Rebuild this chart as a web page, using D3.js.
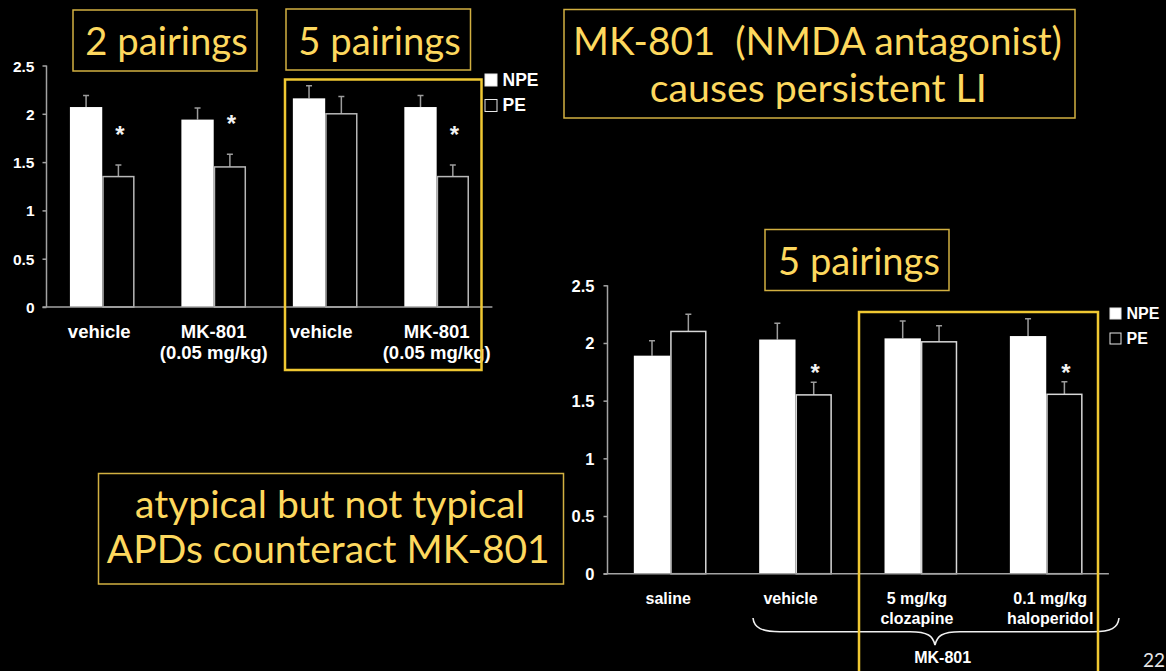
<!DOCTYPE html>
<html>
<head>
<meta charset="utf-8">
<script src="https://cdn.jsdelivr.net/npm/d3@7"></script>
<style>
  html, body { margin: 0; padding: 0; background: #000; }
  svg { display: block; }
  .tick text { font-family: "Liberation Sans", Arial, sans-serif; font-weight: bold; fill: #fff; }
</style>
</head>
<body>
<svg id="slide" width="1166" height="671"></svg>
<script>
// ---- data ----
const seriesNames = ["NPE", "PE"];
const yTicks = [0, 0.5, 1, 1.5, 2, 2.5];

// upper-left chart: 2 and 5 pairings
const leftCategories = [["vehicle"], ["MK-801", "(0.05 mg/kg)"], ["vehicle"], ["MK-801", "(0.05 mg/kg)"]];
const leftNPE = [2.07, 1.94, 2.16, 2.07];
const leftNPEErr = [0.12, 0.12, 0.13, 0.12];
const leftPE = [1.35, 1.45, 2.00, 1.35];
const leftPEErr = [0.12, 0.13, 0.18, 0.12];
const leftSignificant = [true, true, false, true];

// lower-right chart: 5 pairings with antipsychotics
const rightCategories = [["saline"], ["vehicle"], ["5 mg/kg", "clozapine"], ["0.1 mg/kg", "haloperidol"]];
const rightNPE = [1.89, 2.03, 2.04, 2.06];
const rightNPEErr = [0.13, 0.14, 0.15, 0.15];
const rightPE = [2.10, 1.55, 2.01, 1.555];
const rightPEErr = [0.15, 0.11, 0.14, 0.11];
const rightSignificant = [false, true, false, true];

// ---- styles ----
const YELLOW = "#FDD85E";
const BOX_STROKE = "#D2B041";
const HILITE = "#F0C832";
const AXIS = "#a3a3a3";
const TITLE_FONT = "Lato, 'Open Sans', sans-serif";
const CHART_FONT = "'Liberation Sans', Arial, sans-serif";

const svg = d3.select("#slide");
svg.append("rect").attr("width", 1166).attr("height", 671).attr("fill", "#000");

// text scaled so that its rendered width equals the given width
function fittedText(g, str, cx, baseline, width, color) {
  const t = g.append("text")
    .attr("x", cx).attr("y", baseline)
    .attr("text-anchor", "middle")
    .style("white-space", "pre")
    .attr("font-family", TITLE_FONT)
    .attr("font-size", 40)
    .attr("fill", color || YELLOW)
    .text(str);
  const w = t.node().getComputedTextLength();
  if (w > 0) t.attr("font-size", 40 * width / w);
  return t;
}

function box(x0, y0, x1, y1) {
  svg.append("rect")
    .attr("x", x0).attr("y", y0)
    .attr("width", x1 - x0).attr("height", y1 - y0)
    .attr("fill", "none").attr("stroke", BOX_STROKE).attr("stroke-width", 1.5);
}

function drawChart(cfg) {
  const g = svg.append("g");
  const y = d3.scaleLinear().domain([0, 2.5]).range([cfg.y0, cfg.yTop]);
  const x = d3.scaleBand()
    .domain(d3.range(cfg.categories.length))
    .range([cfg.xLeft, cfg.xRight])
    .paddingInner(0.42).paddingOuter(0.21);
  const xs = d3.scaleBand().domain(seriesNames).range([0, x.bandwidth()]);

  // y axis
  const yAxis = d3.axisLeft(y)
    .tickValues(yTicks)
    .tickSize(4)
    .tickPadding(cfg.tickPad)
    .tickFormat(d3.format("~g"));
  const ya = g.append("g").attr("transform", `translate(${cfg.xLeft},0)`).call(yAxis);
  ya.select(".domain").attr("stroke", AXIS).attr("stroke-width", 1.5).attr("d", `M-0,${cfg.yTop}V${cfg.y0}`);
  ya.selectAll(".tick line").attr("stroke", AXIS).attr("stroke-width", 1.5);
  ya.selectAll(".tick text").attr("font-size", cfg.tickSize).attr("dy", "0.36em");

  const rows = cfg.categories.map((c, i) => ({
    i,
    bars: [
      { s: "NPE", v: cfg.npe[i], e: cfg.npeErr[i] },
      { s: "PE", v: cfg.pe[i], e: cfg.peErr[i] }
    ],
    sig: cfg.sig[i]
  }));

  const grp = g.selectAll("g.cat").data(rows).join("g")
    .attr("class", "cat")
    .attr("transform", d => `translate(${x(d.i)},0)`);

  // error bars behind the bars
  grp.selectAll("path.err").data(d => d.bars).join("path")
    .attr("class", "err")
    .attr("fill", "none").attr("stroke", "#9c9c9c").attr("stroke-width", 1.5)
    .attr("d", b => {
      const cx = xs(b.s) + xs.bandwidth() / 2;
      const t = y(b.v + b.e);
      return `M${cx},${y(b.v)}V${t}M${cx - 3},${t}H${cx + 3}`;
    });

  grp.selectAll("rect.bar").data(d => d.bars).join("rect")
    .attr("class", "bar")
    .attr("x", b => xs(b.s) + (b.s === "PE" ? 0.75 : 0))
    .attr("width", b => xs.bandwidth() - (b.s === "PE" ? 1.5 : 0))
    .attr("y", b => y(b.v))
    .attr("height", b => y(0) - y(b.v))
    .attr("fill", b => b.s === "NPE" ? "#fff" : "#000")
    .attr("stroke", b => b.s === "NPE" ? "none" : cfg.peStroke)
    .attr("stroke-width", 1.5);

  // significance stars
  grp.filter(d => d.sig).append("text")
    .attr("x", xs("PE") + xs.bandwidth() / 2 + 1.5)
    .attr("y", d => y(d.bars[1].v + d.bars[1].e) - cfg.starGap + 14)
    .attr("text-anchor", "middle")
    .attr("font-family", CHART_FONT).attr("font-weight", "bold")
    .attr("font-size", 24).attr("fill", "#f2f2f2")
    .text("*");

  // x axis line
  g.append("line")
    .attr("x1", cfg.xLeft - 4).attr("x2", cfg.xRight)
    .attr("y1", cfg.y0).attr("y2", cfg.y0)
    .attr("stroke", AXIS).attr("stroke-width", 1.5);

  // category labels
  grp.each(function (d) {
    const lines = cfg.categories[d.i];
    const t = d3.select(this).append("text")
      .attr("text-anchor", "middle")
      .attr("font-family", CHART_FONT).attr("font-weight", "bold")
      .attr("font-size", cfg.catSize).attr("fill", "#fff");
    lines.forEach((ln, k) => {
      t.append("tspan")
        .attr("x", x.bandwidth() / 2 + (cfg.catShift[d.i] || 0))
        .attr("y", cfg.y0 + cfg.catLine1 + k * cfg.catLineGap)
        .text(ln);
    });
  });

  // legend
  const lg = g.append("g").attr("transform", `translate(${cfg.legendX},${cfg.legendY})`);
  seriesNames.forEach((s, k) => {
    lg.append("rect")
      .attr("x", 0.5).attr("y", k * cfg.legendGap + 0.5)
      .attr("width", cfg.legendBox).attr("height", cfg.legendBox)
      .attr("fill", s === "NPE" ? "#fff" : "#000")
      .attr("stroke", "#e8e8e8").attr("stroke-width", 1);
    lg.append("text")
      .attr("x", cfg.legendBox + 6).attr("y", k * cfg.legendGap + cfg.legendBox)
      .attr("font-family", CHART_FONT).attr("font-weight", "bold")
      .attr("font-size", cfg.legendSize).attr("fill", "#fff")
      .text(s);
  });
  return { x, y };
}

// ---- upper-left chart ----
drawChart({
  categories: leftCategories, npe: leftNPE, npeErr: leftNPEErr, pe: leftPE, peErr: leftPEErr, sig: leftSignificant,
  xLeft: 46.5, xRight: 492.4, y0: 307, yTop: 65.5,
  tickPad: 8, tickSize: 15.5, catSize: 18.5, catLine1: 31, catLineGap: 21,
  catShift: [-3, 0, -4, 0],
  starGap: 36, peStroke: "#b8b8b8",
  legendX: 484.5, legendY: 73.5, legendBox: 12, legendGap: 25.5, legendSize: 17.5
});

// ---- lower-right chart ----
drawChart({
  categories: rightCategories, npe: rightNPE, npeErr: rightNPEErr, pe: rightPE, peErr: rightPEErr, sig: rightSignificant,
  xLeft: 607.5, xRight: 1108.9, y0: 573.7, yTop: 285.3,
  tickPad: 9, tickSize: 16.5, catSize: 16, catLine1: 30, catLineGap: 20.5,
  catShift: [-2, -5, -4, 4],
  starGap: 15, peStroke: "#d8d8d8",
  legendX: 1109.5, legendY: 307.5, legendBox: 11, legendGap: 25, legendSize: 16
});

// brace grouping the MK-801 conditions
svg.append("path")
  .attr("fill", "none").attr("stroke", "#f0f0f0").attr("stroke-width", 1.6)
  .attr("d", "M753,618 C754,628 762,631.7 780,631.7 L910,631.7 C928,631.7 933,636 935,645 C937,636 942,631.7 960,631.7 L1093,631.7 C1111,631.7 1118,628 1119,618");
svg.append("text")
  .attr("x", 942.7).attr("y", 663)
  .attr("text-anchor", "middle")
  .attr("font-family", CHART_FONT).attr("font-weight", "bold")
  .attr("font-size", 16).attr("fill", "#fff")
  .text("MK-801");

// highlight frames around the 5-pairing and antipsychotic groups
svg.append("rect")
  .attr("x", 285).attr("y", 79.5).attr("width", 196.5).attr("height", 290.5)
  .attr("fill", "none").attr("stroke", HILITE).attr("stroke-width", 2.5);
svg.append("rect")
  .attr("x", 859).attr("y", 312).attr("width", 239).attr("height", 380)
  .attr("fill", "none").attr("stroke", HILITE).attr("stroke-width", 2.5);

// ---- text boxes ----
box(73, 10, 257, 71);
fittedText(svg, "2 pairings", 166.6, 55, 162.5);

box(286, 9, 470.5, 70);
fittedText(svg, "5 pairings", 379.5, 55, 162.5);

box(765, 229.5, 949, 290.5);
fittedText(svg, "5 pairings", 859, 275, 162);

box(564, 9.5, 1075, 118);
fittedText(svg, "MK-801  (NMDA antagonist)", 817.5, 55, 489);
fittedText(svg, "causes persistent LI", 818.3, 101.7, 337);

box(98.5, 473.5, 563.5, 584);
fittedText(svg, "atypical but not typical", 330, 518, 390);
fittedText(svg, "APDs counteract MK-801", 328.3, 563.3, 443);

// page number
svg.append("text")
  .attr("x", 1165).attr("y", 667)
  .attr("text-anchor", "end")
  .attr("font-family", TITLE_FONT).attr("font-size", 19).attr("fill", "#e6e6e6")
  .text("22");
</script>
</body>
</html>
